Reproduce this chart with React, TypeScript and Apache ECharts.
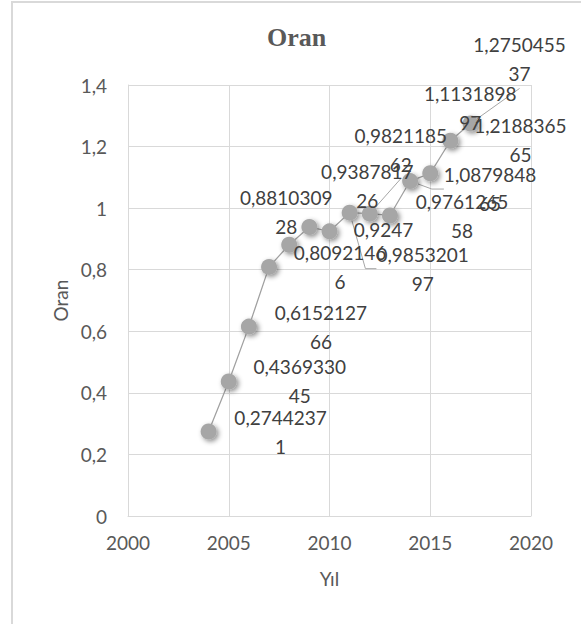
import React, { useEffect, useRef } from "react";
import * as echarts from "echarts";

const years = [2004, 2005, 2006, 2007, 2008, 2009, 2010, 2011, 2012, 2013, 2014, 2015, 2016, 2017];
const values = [
  0.27442371, 0.436933045, 0.615212766, 0.80921466, 0.881030928, 0.938781726, 0.9247,
  0.985320197, 0.982118562, 0.976126558, 1.087984865, 1.113189897, 1.218836565, 1.275045537,
];
const xTicks = { min: 2000, max: 2020, interval: 5 };
const yTicks = { min: 0, max: 1.4, interval: 0.2 };

// label placement (offset of label centre from the marker centre), style only
const labelOffsets: number[][] = [
  [72, 0], [71, 0], [72, 0], [71, 0], [-3, -33], [58, -41], [54, -2],
  [73, 56], [31, -64], [72, 1], [80, 8], [40, -65], [70, -1], [49, -64],
];
const leaderLines: (number | null)[] = [null, null, null, null, null, null, null, 11, 0, null, 12, null, null, 0];

const FONT = "Lato, 'Noto Sans', sans-serif";
const comma = (v: number) => String(v).replace(".", ",");

export default function App() {
  const ref = useRef<HTMLDivElement>(null);
  useEffect(() => {
    if (!ref.current) return;
    const chart = echarts.init(ref.current, null, { renderer: "svg" });
    const data = years.map((y, i) => {
      const item: any = {
        value: [y, values[i]],
        label: { offset: labelOffsets[i] },
      };
      if (leaderLines[i] !== null) {
        item.labelLine = { show: true, length2: leaderLines[i], lineStyle: { color: "#a6a6a6", width: 1 } };
      }
      return item;
    });
    chart.setOption({
      animation: false,
      backgroundColor: "#ffffff",
      title: {
        text: "Oran",
        left: 267,
        top: 24,
        padding: 0,
        textStyle: { fontFamily: "'Liberation Serif', serif", fontWeight: "bold", fontSize: 26, color: "#595959" },
      },
      graphic: [
        {
          type: "rect",
          shape: { x: 12, y: 2, width: 700, height: 700 },
          style: { fill: "none", stroke: "#d9d9d9", lineWidth: 2 },
          silent: true,
        },
      ],
      grid: { left: 128, right: 50, top: 85, bottom: 108, containLabel: false },
      xAxis: {
        type: "value",
        min: xTicks.min,
        max: xTicks.max,
        interval: xTicks.interval,
        name: "Yıl",
        nameLocation: "middle",
        nameGap: 53,
        nameTextStyle: { fontFamily: FONT, fontSize: 19, color: "#595959" },
        axisLine: { show: true, lineStyle: { color: "#d9d9d9", width: 1 } },
        axisTick: { show: false },
        axisLabel: { fontFamily: FONT, fontSize: 19, color: "#595959", margin: 17, formatter: (v: number) => String(v) },
        splitLine: { show: true, lineStyle: { color: "#d9d9d9", width: 1 } },
      },
      yAxis: {
        type: "value",
        min: yTicks.min,
        max: yTicks.max,
        interval: yTicks.interval,
        name: "Oran",
        nameLocation: "middle",
        nameGap: 58,
        nameRotate: 90,
        nameTextStyle: { fontFamily: FONT, fontSize: 19, color: "#595959" },
        axisLine: { show: true, lineStyle: { color: "#d9d9d9", width: 1 } },
        axisTick: { show: false },
        axisLabel: { fontFamily: FONT, fontSize: 19, color: "#595959", margin: 21, formatter: (v: number) => comma(v) },
        splitLine: { show: true, lineStyle: { color: "#d9d9d9", width: 1 } },
      },
      series: [
        {
          type: "line",
          data,
          symbol: "circle",
          symbolSize: 16,
          showAllSymbol: true,
          lineStyle: { color: "#a0a0a0", width: 1.25 },
          itemStyle: {
            color: "#a6a6a6",
            shadowBlur: 5,
            shadowColor: "rgba(0,0,0,0.45)",
            shadowOffsetX: 2,
            shadowOffsetY: 2,
          },
          label: {
            show: true,
            position: "inside",
            align: "center",
            verticalAlign: "middle",
            fontFamily: FONT,
            fontSize: 19,
            lineHeight: 29,
            color: "#404040",
            formatter: (p: any) => {
              const s = comma(p.value[1]);
              return s.length > 9 ? s.slice(0, 9) + "\n" + s.slice(9) : s;
            },
          },
          emphasis: { disabled: true },
          z: 3,
        },
      ],
    });
    return () => chart.dispose();
  }, []);
  return <div ref={ref} style={{ position: "absolute", left: 0, top: 0, width: 581, height: 624 }} />;
}
